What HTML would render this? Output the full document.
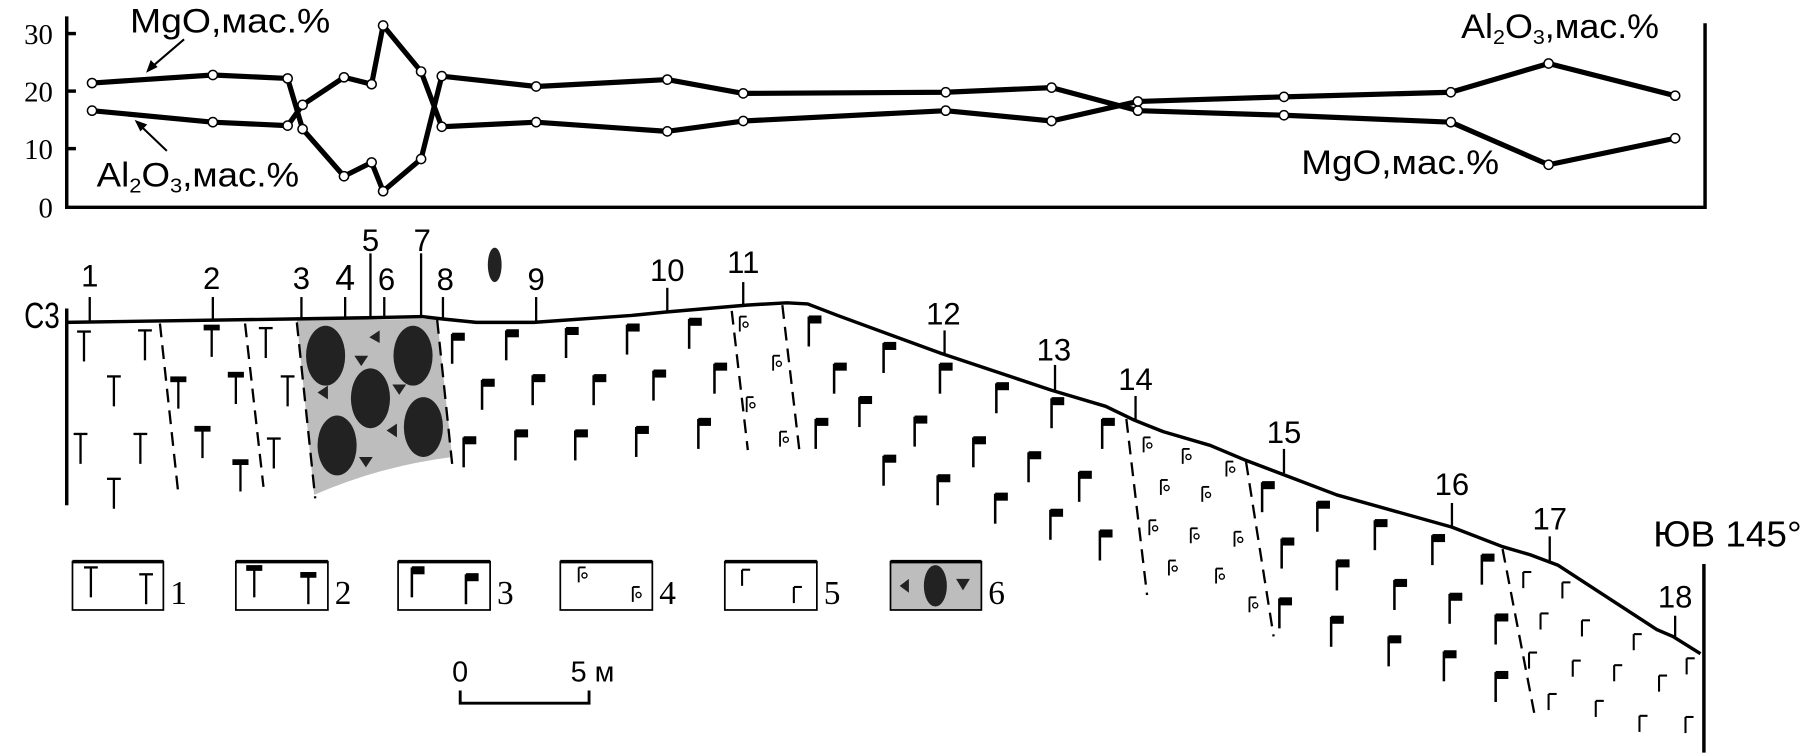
<!DOCTYPE html>
<html><head><meta charset="utf-8"><style>html,body{margin:0;padding:0;background:#fff;overflow:hidden}svg{display:block}</style></head>
<body>
<svg width="1804" height="754" viewBox="0 0 1568 655" xmlns="http://www.w3.org/2000/svg">
<defs>
<g id="t"><line x1="0" y1="0" x2="0" y2="26" stroke="#000" stroke-width="2"/><line x1="-6" y1="0" x2="6" y2="0" stroke="#000" stroke-width="2"/></g>
<g id="tb"><line x1="0" y1="0" x2="0" y2="26" stroke="#000" stroke-width="2"/><rect x="-7" y="-2" width="14" height="5" fill="#000"/></g>
<g id="f"><line x1="0" y1="0" x2="0" y2="26" stroke="#000" stroke-width="2.2"/><rect x="0" y="-1" width="11" height="7" fill="#000"/></g>
<g id="c"><line x1="0" y1="0" x2="0" y2="13" stroke="#000" stroke-width="1.6"/><line x1="0" y1="0" x2="6" y2="0" stroke="#000" stroke-width="1.6"/><circle cx="5" cy="7" r="2.2" fill="none" stroke="#000" stroke-width="1.2"/></g>
<g id="g"><line x1="0" y1="0" x2="0" y2="14" stroke="#000" stroke-width="1.8"/><line x1="0" y1="0" x2="7" y2="0" stroke="#000" stroke-width="1.8"/></g>
</defs>

<g stroke="#000" stroke-width="3" fill="none">
<polyline points="58,14 58,180 1482,180 1482,20"/>
<line x1="58" y1="29" x2="66" y2="29"/><line x1="58" y1="79" x2="66" y2="79"/><line x1="58" y1="129" x2="66" y2="129"/>
</g>
<g font-family="Liberation Serif, serif" font-size="25" text-anchor="end">
<text x="46" y="38">30</text><text x="46" y="88">20</text><text x="46" y="138">10</text><text x="46" y="189">0</text>
</g>
<g stroke="#000" stroke-width="4.5" fill="none" stroke-linejoin="round">
<polyline points="80,72 185,65 250,68 263,112 299,153 323,141 333,166 366,138 384,66 466,75 580,69 646,81 822,80 914,76 989,96 1116,100 1261,106 1346,143 1456,120"/>
<polyline points="80,96 185,106 250,109 263,91 299,67 323,73 333,22 366,62 384,110 466,106 580,114 646,105 822,96 914,105 989,88 1116,84 1261,80 1346,55 1456,83"/>
</g>
<g fill="#fff" stroke="#000" stroke-width="1.3">
<circle cx="80" cy="72" r="4"/><circle cx="185" cy="65" r="4"/><circle cx="250" cy="68" r="4"/><circle cx="263" cy="112" r="4"/><circle cx="299" cy="153" r="4"/><circle cx="323" cy="141" r="4"/><circle cx="333" cy="166" r="4"/><circle cx="366" cy="138" r="4"/><circle cx="384" cy="66" r="4"/><circle cx="466" cy="75" r="4"/><circle cx="580" cy="69" r="4"/><circle cx="646" cy="81" r="4"/><circle cx="822" cy="80" r="4"/><circle cx="914" cy="76" r="4"/><circle cx="989" cy="96" r="4"/><circle cx="1116" cy="100" r="4"/><circle cx="1261" cy="106" r="4"/><circle cx="1346" cy="143" r="4"/><circle cx="1456" cy="120" r="4"/>
<circle cx="80" cy="96" r="4"/><circle cx="185" cy="106" r="4"/><circle cx="250" cy="109" r="4"/><circle cx="263" cy="91" r="4"/><circle cx="299" cy="67" r="4"/><circle cx="323" cy="73" r="4"/><circle cx="333" cy="22" r="4"/><circle cx="366" cy="62" r="4"/><circle cx="384" cy="110" r="4"/><circle cx="466" cy="106" r="4"/><circle cx="580" cy="114" r="4"/><circle cx="646" cy="105" r="4"/><circle cx="822" cy="96" r="4"/><circle cx="914" cy="105" r="4"/><circle cx="989" cy="88" r="4"/><circle cx="1116" cy="84" r="4"/><circle cx="1261" cy="80" r="4"/><circle cx="1346" cy="55" r="4"/><circle cx="1456" cy="83" r="4"/>
</g>
<g stroke="#000" stroke-width="1.8"><line x1="160" y1="34" x2="132" y2="58"/><line x1="145" y1="131" x2="122" y2="109"/></g>
<polygon points="127,63 131,52 137,58" fill="#000"/><polygon points="117,104 128,108 122,114" fill="#000"/>
<g font-family="Liberation Sans, sans-serif" font-size="30">
<text x="113" y="28" textLength="174" lengthAdjust="spacingAndGlyphs">MgO,мас.%</text>
<text x="84" y="162" textLength="176" lengthAdjust="spacingAndGlyphs">Al<tspan font-size="18" dy="5">2</tspan><tspan dy="-5">O</tspan><tspan font-size="18" dy="5">3</tspan><tspan dy="-5">,мас.%</tspan></text>
<text x="1270" y="33" textLength="172" lengthAdjust="spacingAndGlyphs">Al<tspan font-size="18" dy="5">2</tspan><tspan dy="-5">O</tspan><tspan font-size="18" dy="5">3</tspan><tspan dy="-5">,мас.%</tspan></text>
<text x="1131" y="151" textLength="172" lengthAdjust="spacingAndGlyphs">MgO,мас.%</text>
</g>

<path d="M258,278 L380,277 L393,397 Q330,405 273,430 Z" fill="#bdbdbd"/>
<g fill="#222">
<ellipse cx="283" cy="309" rx="17" ry="26"/><ellipse cx="359" cy="309" rx="17" ry="26"/><ellipse cx="322" cy="346" rx="17" ry="26"/><ellipse cx="293" cy="387" rx="17" ry="26"/><ellipse cx="368" cy="371" rx="17" ry="26"/>
<polygon points="330,287 330,298 321,293"/><polygon points="308,309 320,309 314,318"/><polygon points="285,335 285,347 276,341"/><polygon points="341,334 353,334 347,343"/><polygon points="345,368 345,380 336,374"/><polygon points="312,397 324,397 318,406"/>
<ellipse cx="430" cy="230" rx="6" ry="15"/>
</g>

<g stroke="#000" stroke-width="2" stroke-dasharray="12,7" fill="none">
<line x1="139" y1="281" x2="155" y2="429"/><line x1="213" y1="281" x2="229" y2="423"/><line x1="258" y1="280" x2="274" y2="433"/><line x1="380" y1="278" x2="393" y2="403"/>
<line x1="636" y1="270" x2="650" y2="391"/><line x1="680" y1="265" x2="695" y2="393"/><line x1="979" y1="364" x2="997" y2="517"/><line x1="1083" y1="401" x2="1107" y2="553"/><line x1="1306" y1="477" x2="1334" y2="622"/>
</g>

<polyline fill="none" stroke="#000" stroke-width="3" stroke-linejoin="round" points="57,280 259,277 319,276 367,275 384,277 414,280 464,280 549,274 579,271 649,265 684,263 702,264 728,274 818,307 914,339 961,353 986,365 1011,375 1052,387 1083,400 1162,430 1262,458 1306,475 1330,482 1354,491 1440,547 1454,553 1478,568"/>
<line x1="58" y1="268" x2="58" y2="439" stroke="#000" stroke-width="3"/>
<line x1="1481" y1="490" x2="1481" y2="654" stroke="#000" stroke-width="3"/>

<g stroke="#000" stroke-width="2">
<line x1="78" y1="258" x2="78" y2="280"/><line x1="185" y1="258" x2="185" y2="278"/><line x1="262" y1="258" x2="262" y2="277"/><line x1="300" y1="258" x2="300" y2="276"/><line x1="322" y1="220" x2="322" y2="276"/><line x1="334" y1="258" x2="334" y2="276"/><line x1="366" y1="220" x2="366" y2="275"/><line x1="385" y1="258" x2="385" y2="277"/><line x1="466" y1="258" x2="466" y2="280"/><line x1="580" y1="250" x2="580" y2="271"/><line x1="646" y1="245" x2="646" y2="266"/><line x1="821" y1="287" x2="821" y2="308"/><line x1="917" y1="317" x2="917" y2="340"/><line x1="987" y1="344" x2="987" y2="366"/><line x1="1116" y1="390" x2="1116" y2="411"/><line x1="1262" y1="437" x2="1262" y2="458"/><line x1="1347" y1="466" x2="1347" y2="488"/><line x1="1456" y1="535" x2="1456" y2="553"/>
</g>
<g font-family="Liberation Sans, sans-serif" font-size="27" text-anchor="middle">
<text x="78" y="249">1</text><text x="184" y="251">2</text><text x="262" y="251">3</text><text x="300" y="252" font-size="31">4</text><text x="322" y="218">5</text><text x="336" y="252">6</text><text x="367" y="218">7</text><text x="387" y="252">8</text><text x="466" y="252">9</text><text x="580" y="244">10</text><text x="646" y="237">11</text><text x="820" y="282">12</text><text x="916" y="313">13</text><text x="987" y="339">14</text><text x="1116" y="385">15</text><text x="1262" y="430">16</text><text x="1347" y="460">17</text><text x="1456" y="528">18</text>
</g>
<text x="21" y="285" font-family="Liberation Sans, sans-serif" font-size="31" textLength="31" lengthAdjust="spacingAndGlyphs">С3</text>
<text x="1437" y="475" font-family="Liberation Sans, sans-serif" font-size="31" textLength="129" lengthAdjust="spacingAndGlyphs">ЮВ 145°</text>

<use href="#t" x="73" y="288"/><use href="#t" x="126" y="287"/><use href="#t" x="99" y="327"/><use href="#t" x="70" y="377"/><use href="#t" x="122" y="377"/><use href="#t" x="99" y="416"/><use href="#t" x="231" y="285"/><use href="#t" x="250" y="327"/><use href="#t" x="238" y="381"/>
<use href="#tb" x="184" y="284"/><use href="#tb" x="155" y="329"/><use href="#tb" x="205" y="325"/><use href="#tb" x="176" y="372"/><use href="#tb" x="209" y="401"/>

<use href="#f" x="393" y="290"/><use href="#f" x="440" y="287"/><use href="#f" x="492" y="285"/><use href="#f" x="545" y="282"/><use href="#f" x="599" y="277"/>
<use href="#f" x="419" y="330"/><use href="#f" x="463" y="326"/><use href="#f" x="516" y="326"/><use href="#f" x="568" y="322"/><use href="#f" x="621" y="316"/>
<use href="#f" x="403" y="380"/><use href="#f" x="448" y="374"/><use href="#f" x="500" y="374"/><use href="#f" x="553" y="371"/><use href="#f" x="607" y="364"/>
<use href="#f" x="703" y="275"/><use href="#f" x="768" y="298"/><use href="#f" x="725" y="316"/><use href="#f" x="817" y="316"/><use href="#f" x="747" y="345"/><use href="#f" x="709" y="364"/><use href="#f" x="795" y="362"/><use href="#f" x="866" y="333"/><use href="#f" x="914" y="346"/><use href="#f" x="768" y="396"/><use href="#f" x="846" y="380"/><use href="#f" x="958" y="364"/><use href="#f" x="894" y="393"/><use href="#f" x="815" y="413"/><use href="#f" x="865" y="429"/><use href="#f" x="938" y="410"/><use href="#f" x="913" y="443"/><use href="#f" x="956" y="461"/>
<use href="#f" x="1097" y="419"/><use href="#f" x="1145" y="436"/><use href="#f" x="1195" y="452"/><use href="#f" x="1245" y="465"/><use href="#f" x="1288" y="482"/><use href="#f" x="1114" y="468"/><use href="#f" x="1162" y="487"/><use href="#f" x="1212" y="504"/><use href="#f" x="1260" y="516"/><use href="#f" x="1300" y="534"/><use href="#f" x="1112" y="520"/><use href="#f" x="1157" y="536"/><use href="#f" x="1207" y="553"/><use href="#f" x="1255" y="566"/><use href="#f" x="1300" y="584"/>

<use href="#c" x="643" y="275"/><use href="#c" x="672" y="309"/><use href="#c" x="649" y="345"/><use href="#c" x="678" y="375"/>
<use href="#c" x="994" y="380"/><use href="#c" x="1028" y="390"/><use href="#c" x="1066" y="401"/><use href="#c" x="1009" y="417"/><use href="#c" x="1045" y="423"/><use href="#c" x="999" y="452"/><use href="#c" x="1035" y="459"/><use href="#c" x="1073" y="462"/><use href="#c" x="1016" y="487"/><use href="#c" x="1057" y="494"/><use href="#c" x="1086" y="519"/>

<use href="#g" x="1324" y="497"/><use href="#g" x="1358" y="506"/><use href="#g" x="1339" y="533"/><use href="#g" x="1375" y="539"/><use href="#g" x="1420" y="551"/><use href="#g" x="1329" y="567"/><use href="#g" x="1367" y="574"/><use href="#g" x="1403" y="578"/><use href="#g" x="1442" y="587"/><use href="#g" x="1466" y="572"/><use href="#g" x="1346" y="603"/><use href="#g" x="1387" y="609"/><use href="#g" x="1425" y="622"/><use href="#g" x="1465" y="623"/>

<g fill="#fff" stroke="#000" stroke-width="1.5">
<rect x="63" y="488" width="79" height="42"/><rect x="205" y="488" width="80" height="42"/><rect x="346" y="488" width="80" height="42"/><rect x="487" y="488" width="80" height="42"/><rect x="630" y="488" width="80" height="42"/><rect x="774" y="488" width="79" height="42" fill="#bdbdbd"/>
</g>
<g stroke="#000" stroke-width="3"><line x1="63" y1="488" x2="142" y2="488"/><line x1="205" y1="488" x2="285" y2="488"/><line x1="346" y1="488" x2="426" y2="488"/><line x1="487" y1="488" x2="567" y2="488"/><line x1="630" y1="488" x2="710" y2="488"/><line x1="774" y1="488" x2="853" y2="488"/></g>
<use href="#t" x="79" y="493"/><use href="#t" x="127" y="499"/>
<use href="#tb" x="221" y="493"/><use href="#tb" x="268" y="499"/>
<use href="#f" x="358" y="493"/><use href="#f" x="405" y="499"/>
<use href="#c" x="503" y="493"/><use href="#c" x="550" y="510"/>
<use href="#g" x="645" y="495"/><use href="#g" x="690" y="510"/>
<ellipse cx="813" cy="509" rx="10" ry="18" fill="#222"/><polygon points="790,503 790,515 782,509" fill="#222"/><polygon points="831,503 843,503 837,513" fill="#222"/>
<g font-family="Liberation Serif, serif" font-size="29">
<text x="148" y="525">1</text><text x="291" y="525">2</text><text x="432" y="525">3</text><text x="573" y="525">4</text><text x="716" y="525">5</text><text x="859" y="525">6</text>
</g>
<g font-family="Liberation Sans, sans-serif" font-size="25"><text x="393" y="592">0</text><text x="496" y="592">5 м</text></g>
<polyline points="400,600 400,611 512,611 512,600" fill="none" stroke="#000" stroke-width="2.5"/>
</svg>
</body></html>
